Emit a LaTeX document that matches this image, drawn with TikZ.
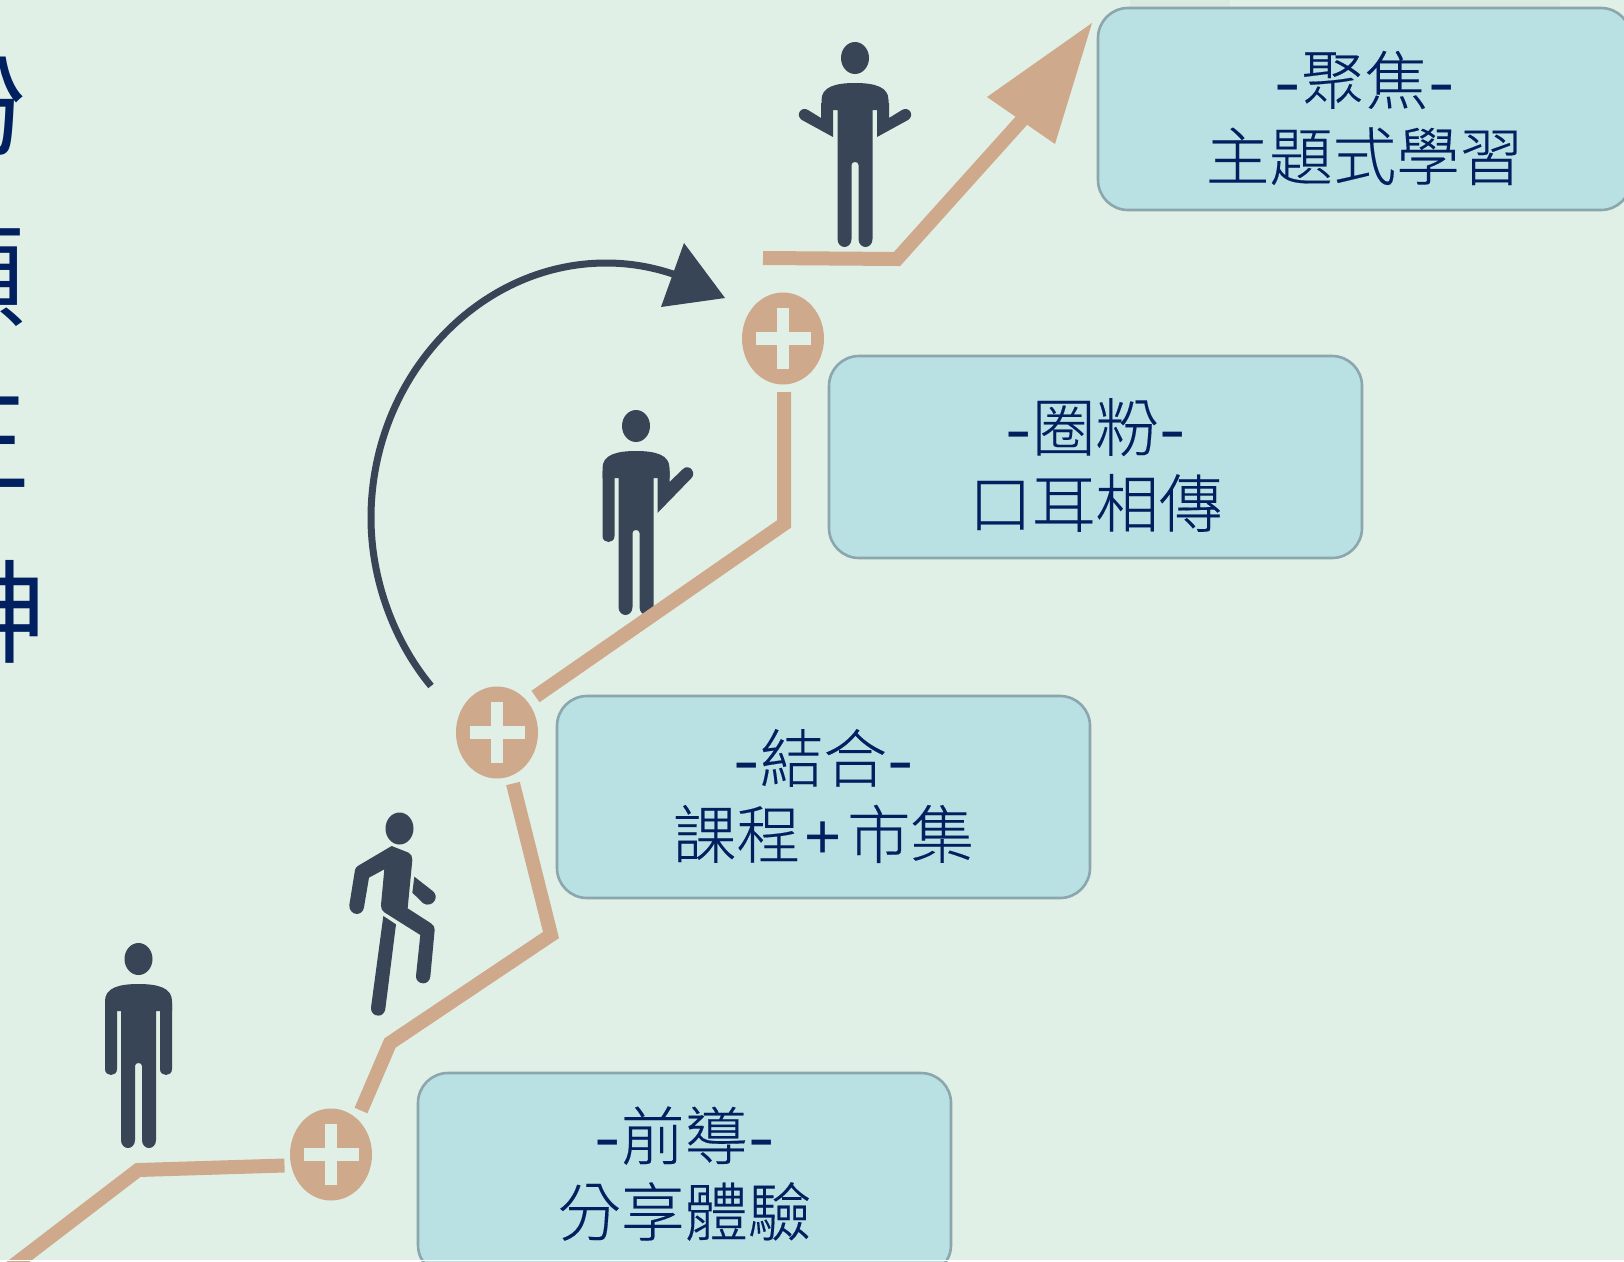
\documentclass[tikz,border=0pt]{standalone}
\usepackage{fontspec}
\usetikzlibrary{calc,positioning,shapes.geometric}
\newfontfamily\cjk[FakeBold=0.25]{Noto Sans CJK TC Light}
\newfontfamily\cjkside{Noto Sans CJK TC}
\newfontfamily\latinsign{Liberation Sans}
\newcommand{\hy}{{\latinsign\scalebox{1.25}[1]{-}}}
\newcommand{\plussign}{\hspace{5pt}{\latinsign +}\hspace{5pt}}
\definecolor{bgcol}{HTML}{E0F0E6}
\definecolor{boxcol}{HTML}{B9E0E2}
\definecolor{boxline}{HTML}{8BA6AC}
\definecolor{mancol}{HTML}{384556}
\definecolor{tancol}{HTML}{CFA98B}
\definecolor{textcol}{HTML}{002060}

\begin{document}
\begin{tikzpicture}[x=1pt,y=-1pt]

\tikzset{bluebox/.style={draw=boxline,line width=2.6pt,fill=boxcol,rounded corners=30pt,minimum width=533pt,minimum height=202pt,inner sep=0pt},
boxtext/.style={align=center,inner sep=0pt,text=textcol,font=\cjk\fontsize{63.5}{76}\selectfont},
plusnode/.style={shape=ellipse,fill=tancol,minimum width=82pt,minimum height=92pt,inner sep=0pt},
sidetext/.style={text=textcol,inner sep=0pt,font=\cjkside\fontsize{112}{112}\selectfont},
tanline/.style={draw=tancol,line width=14pt,line join=miter},
manbody/.pic={\fill[mancol] (0,0) ellipse (14 and 16);
\fill[mancol] (-33.5,42) .. controls (-33.5,29) and (-20,25) .. (0,25) .. controls (20,25) and (33.5,29) .. (33.5,42) -- (33.5,52) -- (17.5,52) -- (17.5,181) .. controls (17.5,186) and (14,189) .. (10.5,189) .. controls (7,189) and (3.5,186) .. (3.5,181) -- (3.5,107) .. controls (3.5,105) and (2,104) .. (0,104) .. controls (-2,104) and (-3.5,105) .. (-3.5,107) -- (-3.5,181) .. controls (-3.5,186) and (-7,189) .. (-10.5,189) .. controls (-14,189) and (-17.5,186) .. (-17.5,181) -- (-17.5,52) -- (-33.5,52) -- cycle;},
manarm/.pic={\fill[mancol] (21.5,45) -- (33.5,45) -- (33.5,110) .. controls (33.5,114) and (30.5,116) .. (27.5,116) .. controls (24.5,116) and (21.5,114) .. (21.5,110) -- cycle;},
manarmhigh/.pic={\fill[mancol] (21.5,45) -- (33.5,45) -- (33.5,56) -- (47,43) .. controls (50,40) and (54,41) .. (56,44) .. controls (58,47) and (57.5,50) .. (55,52.5) -- (21.5,87) -- cycle;},
manarmlow/.pic={\fill[mancol] (22,45) -- (34,45) -- (34,60) -- (47,52) .. controls (50,50) and (54,51) .. (55.5,54) .. controls (57,57) and (56,60) .. (53,62) -- (22,79) -- cycle;}}

\useasboundingbox (0,0) rectangle (1624,1261);

% Background
\fill[bgcol] (0,0) rectangle (1624,1261);
\fill[black!3!bgcol] (1130,0) rectangle (1230,8);
\fill[black!3!bgcol] (1400,0) rectangle (1560,8);

% Cut-off text at the left edge
\node[sidetext] (sidea) at (-29,105) {粉};
\node[sidetext] (sideb) at (-30,278) {願};
\node[sidetext] (sidec) at (-25,442) {王};
\node[sidetext] (sided) at (-9,612) {神};

% Boxes
\node[bluebox] (boxa) at (684.5,1174) {};
\node[bluebox] (boxb) at (823.5,797) {};
\node[bluebox] (boxc) at (1095.5,457) {};
\node[bluebox] (boxd) at (1364.5,109) {};
\node[boxtext] (texta) at ($(boxa)+(0,-0.5)$) {\hy{}前導\hy\\分享體驗};
\node[boxtext] (textb) at ($(boxb)+(0,-1)$) {\hy{}結合\hy\\課程\plussign{}市集};
\node[boxtext] (textc) at ($(boxc)+(0,8)$) {\hy{}圈粉\hy\\口耳相傳};
\node[boxtext] (textd) at ($(boxd)+(0,9)$) {\hy{}聚焦\hy\\主題式學習};

% Plus nodes
\node[plusnode] (plusa) at (331,1154.5) {};
\node[plusnode] (plusb) at (497,732.5) {};
\node[plusnode] (plusc) at (783,338.5) {};
\foreach \p in {plusa,plusb,plusc} {
\fill[bgcol] ($(\p)+(-27.5,-6.5)$) rectangle ($(\p)+(27.5,6.5)$);
\fill[bgcol] ($(\p)+(-6.2,-30.5)$) rectangle ($(\p)+(6.2,30.5)$);
}

% People
\pic at (138.5,959) {manbody};
\pic at (138.5,959) {manarm};
\pic[xscale=-1] at (138.5,959) {manarm};
\pic at (636,426) {manbody};
\pic[xscale=-1] at (636,426) {manarm};
\pic at (636,426) {manarmhigh};
\pic at (855,58) {manbody};
\pic at (855,58) {manarmlow};
\pic[xscale=-1] at (855,58) {manarmlow};
\fill[mancol] (399.5,828.5) ellipse (14 and 16);
\begin{scope}[shift={(320,780)},x=.3333pt,y=-.3333pt]
\fill[mancol] (215,198) -- (266,218) .. controls (274,222) and (277,230) .. (277,240) -- (263,385) -- (333,430) .. controls (341,435) and (345,442) .. (344,450) -- (331,590) .. controls (329,603) and (320,610) .. (310,610) .. controls (297,610) and (287,600) .. (288,588) -- (301,465) -- (193,397) .. controls (186,392) and (182,385) .. (183,375) -- (193,268) -- (147,293) -- (132,382) .. controls (130,395) and (120,402) .. (110,402) .. controls (97,401) and (87,390) .. (88,375) -- (105,270) .. controls (106,264) and (110,260) .. (115,257) -- cycle;
\fill[mancol] (190,408) -- (228,433) -- (196,687) .. controls (194,700) and (185,707) .. (175,707) .. controls (162,707) and (152,697) .. (153,683) -- cycle;
\fill[mancol] (283,290) -- (338,333) .. controls (347,340) and (350,352) .. (344,362) .. controls (338,373) and (322,378) .. (310,370) -- (277,338) -- cycle;
\end{scope}

% Path points
\coordinate (linea) at (-7,1281);
\coordinate (lineb) at (138,1170);
\coordinate (linec) at (284.5,1165.5);
\coordinate (lined) at (361,1110.5);
\coordinate (linee) at (390,1043);
\coordinate (linef) at (551,935);
\coordinate (lineg) at (513,783.5);
\coordinate (lineh) at (535.5,696.5);
\coordinate (linei) at (784,524);
\coordinate (linej) at (784,392);
\coordinate (linek) at (763,258);
\coordinate (linel) at (897,259);
\coordinate (linem) at (1022,120);
\coordinate (tipa) at (1092,23);
\coordinate (tipb) at (987,97);
\coordinate (tipc) at (1055,144);
\coordinate (arca) at (431,686);
\coordinate (arcb) at (371,518);
\coordinate (arcc) at (606,263);
\coordinate (arcd) at (676,275);
\coordinate (headb) at (684,243);
\coordinate (headc) at (725,298);
\coordinate (headd) at (661,307);

% Lines
\draw[tanline] (linea) -- (lineb) -- (linec);
\draw[tanline] (lined) -- (linee) -- (linef) -- (lineg);
\draw[tanline] (lineh) -- (linei) -- (linej);
\draw[tanline] (linek) -- (linel) -- (linem);
\fill[tancol] (tipa) -- (tipb) -- (tipc) -- cycle;

% Curved arrow
\draw[mancol,line width=7pt] (arca) .. controls (393,640) and (371,578) .. (arcb) .. controls (371,378) and (478,263) .. (arcc) .. controls (630,263) and (653,267) .. (arcd);
\fill[mancol] (headb) -- (headc) -- (headd) -- cycle;

% White strip at the lower edge
\fill[white] (0,1259.5) rectangle (1624,1261);

\end{tikzpicture}
\end{document}
